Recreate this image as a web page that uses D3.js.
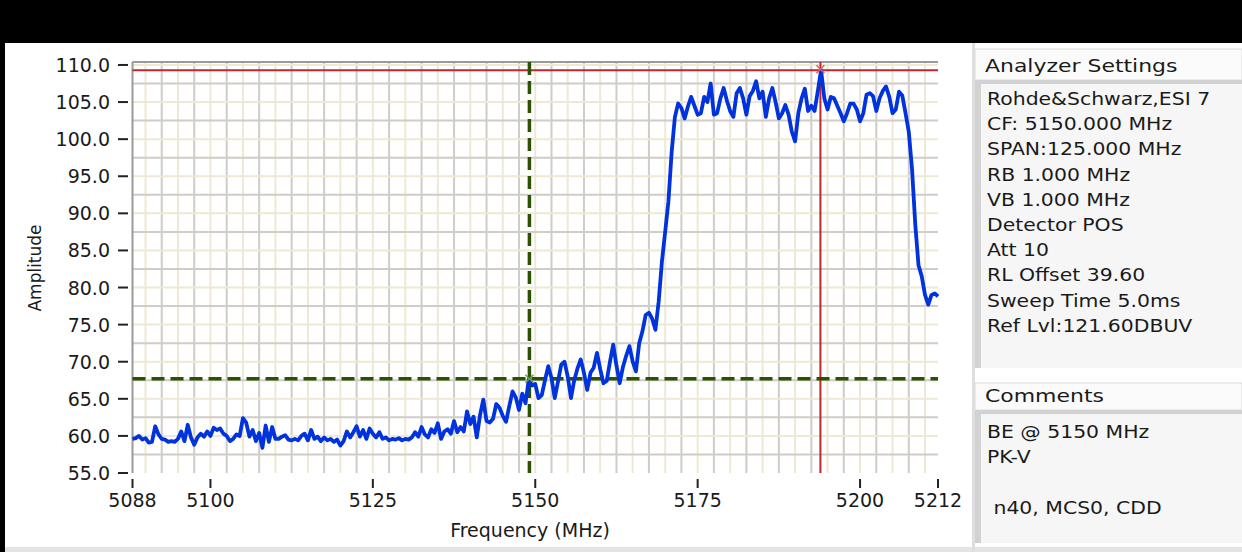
<!DOCTYPE html>
<html lang="en">
<head>
<meta charset="UTF-8">
<title>Band Edge Plot</title>
<script src="https://d3js.org/d3.v7.min.js"></script>
<style>
    body { margin: 0; padding: 0; background: #000; }
    svg { display: block; }
    text { font-family: "DejaVu Sans", Verdana, sans-serif; fill: #1a1a1a; }
</style>
</head>
<body>
<svg id="chart" width="1242" height="552"></svg>
<script>
// trace samples, 0.5 MHz apart starting at 5088 MHz
var startFreq = 5088, stepFreq = 0.5;
var amplitude = [
    59.6, 59.7, 60.0, 59.5, 59.7, 59.1, 59.2, 61.3, 60.2, 59.6,
    59.5, 59.2, 59.3, 59.2, 59.6, 60.6, 59.3, 61.5, 59.8, 58.8,
    59.8, 60.3, 59.9, 60.6, 60.0, 61.1, 60.8, 61.0, 60.3, 60.0,
    59.3, 59.6, 60.2, 60.0, 62.4, 61.8, 59.9, 60.8, 59.3, 60.4,
    58.4, 61.4, 59.2, 61.2, 59.6, 59.6, 59.9, 60.1, 59.5, 59.4,
    59.6, 59.4, 60.0, 60.3, 59.4, 60.8, 59.6, 59.9, 59.3, 59.8,
    59.4, 59.6, 59.2, 59.5, 58.7, 59.3, 60.6, 59.8, 60.5, 61.3,
    59.9, 60.8, 59.6, 61.0, 60.3, 59.8, 60.5, 59.6, 59.8, 59.4,
    59.6, 59.5, 59.7, 59.4, 59.6, 59.5, 59.8, 60.5, 59.9, 61.2,
    60.2, 59.8, 60.9, 60.4, 61.7, 59.6, 60.6, 60.9, 60.3, 62.0,
    60.5, 61.2, 60.6, 63.3, 61.6, 62.6, 59.8, 62.8, 64.9, 62.0,
    61.8, 62.3, 64.3, 63.8, 62.7, 61.9, 64.0, 66.0, 65.2, 63.5,
    65.7, 64.4, 67.6, 66.8, 67.0, 65.1, 65.5, 67.5, 69.4, 67.8,
    65.1, 67.3, 69.6, 70.0, 68.0, 65.1, 67.5, 69.1, 70.3, 68.5,
    66.2, 68.5, 69.2, 71.2, 69.0, 67.1, 67.4, 70.0, 72.3, 69.5,
    67.1, 69.3, 70.8, 72.1, 70.0, 68.7, 72.5, 74.1, 76.3, 76.6,
    75.8, 74.3, 78.1, 83.5, 87.5, 91.6, 98.3, 103.0, 104.8, 104.2,
    102.8, 104.4, 105.7, 104.5, 103.3, 103.5, 105.7, 105.0, 107.5, 103.3,
    103.5, 105.5, 106.9, 105.2, 103.8, 103.0, 106.2, 106.9, 105.5, 103.3,
    105.8, 106.5, 107.8, 105.5, 106.4, 103.0, 105.5, 106.9, 105.0, 102.8,
    103.5, 104.6, 103.3, 101.0, 99.7, 103.5, 105.5, 106.8, 103.8, 104.5,
    103.8, 106.5, 109.3, 105.5, 104.0, 105.7, 105.5, 104.5, 103.5, 102.4,
    103.5, 104.8, 104.8, 104.0, 102.4, 103.5, 106.0, 106.2, 105.8, 103.8,
    105.5, 106.5, 107.1, 105.7, 103.5, 104.0, 106.4, 105.9, 103.5, 101.0,
    96.0, 88.5, 83.0, 81.5, 79.0, 77.7, 79.0, 79.2, 78.8
];

var xTicks = [5088, 5100, 5125, 5150, 5175, 5200, 5212];
var yTicks = [55, 60, 65, 70, 75, 80, 85, 90, 95, 100, 105, 110];

// markers: peak (red) and band edge (green)
var peakMarker = { freq: 5193.9, amp: 109.3 };
var edgeMarker = { freq: 5149.1, amp: 67.7 };

var settingsLines = [
    "Rohde&Schwarz,ESI 7",
    "CF: 5150.000 MHz",
    "SPAN:125.000 MHz",
    "RB 1.000 MHz",
    "VB 1.000 MHz",
    "Detector POS",
    "Att 10",
    "RL Offset 39.60",
    "Sweep Time 5.0ms",
    "Ref Lvl:121.60DBUV"
];
var commentLines = ["BE @ 5150 MHz", "PK-V", "", " n40, MCS0, CDD"];

var svg = d3.select("#chart");

// background panels
svg.append("rect").attr("x", 5).attr("y", 43).attr("width", 1237).attr("height", 504).attr("fill", "#fff");
svg.append("rect").attr("x", 0).attr("y", 547).attr("width", 1242).attr("height", 5).attr("fill", "#e4e4e4");
svg.append("rect").attr("x", 0).attr("y", 0).attr("width", 5).attr("height", 552).attr("fill", "#000");

var x = d3.scaleLinear().domain([5088, 5212]).range([132.5, 938]);
var y = d3.scaleLinear().domain([55, 110.4]).range([473, 62]);

var plot = svg.append("g");

// grid: lines every 2.5, multiples of 5 lighter
var vGrid = d3.range(5090, 5211, 2.5);
var hGrid = d3.range(57.5, 110.1, 2.5);
function gridColor(v) { return (Math.abs(v % 5) < 0.01) ? "#eee9d4" : "#d0ccc7"; }

plot.selectAll(".vg").data(vGrid).enter().append("line")
    .attr("x1", d => x(d)).attr("x2", d => x(d))
    .attr("y1", y.range()[1]).attr("y2", y.range()[0])
    .attr("stroke", gridColor).attr("stroke-width", 2);
plot.selectAll(".hg").data(hGrid).enter().append("line")
    .attr("x1", x.range()[0]).attr("x2", x.range()[1])
    .attr("y1", d => y(d)).attr("y2", d => y(d))
    .attr("stroke", gridColor).attr("stroke-width", 2);

// frame (top + left)
plot.append("line").attr("x1", x.range()[0]).attr("x2", x.range()[1])
    .attr("y1", 62).attr("y2", 62).attr("stroke", "#9a9a9a").attr("stroke-width", 2);
plot.append("line").attr("x1", x.range()[0]).attr("x2", x.range()[0])
    .attr("y1", 62).attr("y2", 473).attr("stroke", "#9a9a9a").attr("stroke-width", 2);

// markers lines
var red = "#c0262c", green = "#2a5200";
plot.append("line").attr("x1", x.range()[0]).attr("x2", x.range()[1])
    .attr("y1", y(peakMarker.amp)).attr("y2", y(peakMarker.amp))
    .attr("stroke", red).attr("stroke-width", 2);
plot.append("line").attr("x1", x(peakMarker.freq)).attr("x2", x(peakMarker.freq))
    .attr("y1", 62).attr("y2", 473).attr("stroke", red).attr("stroke-width", 2);

plot.append("line").attr("x1", x.range()[0]).attr("x2", x.range()[1])
    .attr("y1", y(edgeMarker.amp)).attr("y2", y(edgeMarker.amp))
    .attr("stroke", green).attr("stroke-width", 3.5).attr("stroke-dasharray", "13,6");
plot.append("line").attr("x1", x(edgeMarker.freq)).attr("x2", x(edgeMarker.freq))
    .attr("y1", 62).attr("y2", 473)
    .attr("stroke", green).attr("stroke-width", 3.5).attr("stroke-dasharray", "13,6");

// trace
var line = d3.line()
    .x((d, i) => x(startFreq + i * stepFreq))
    .y(d => y(d));
plot.append("path").datum(amplitude)
    .attr("d", line)
    .attr("fill", "none")
    .attr("stroke", "#0033dd")
    .attr("stroke-width", 3.8)
    .attr("stroke-linejoin", "round");

// marker crosses
function cross(cx, cy, col) {
    var s = 4;
    plot.append("path")
        .attr("d", "M" + (cx - s) + "," + (cy - s) + "L" + (cx + s) + "," + (cy + s) +
                   "M" + (cx + s) + "," + (cy - s) + "L" + (cx - s) + "," + (cy + s))
        .attr("stroke", col).attr("stroke-width", 1.5).attr("fill", "none");
}
cross(x(peakMarker.freq), y(peakMarker.amp) - 1, "#e06060");
cross(x(edgeMarker.freq), y(edgeMarker.amp), "#6e9a4a");

// y axis ticks and labels
var yAx = svg.append("g");
yAx.selectAll("line").data(yTicks).enter().append("line")
    .attr("x1", 118).attr("x2", 128)
    .attr("y1", d => y(d)).attr("y2", d => y(d))
    .attr("stroke", "#222").attr("stroke-width", 2);
yAx.selectAll("text").data(yTicks).enter().append("text")
    .attr("x", 110).attr("y", d => y(d) + 7)
    .attr("text-anchor", "end")
    .style("font-size", "19px")
    .text(d3.format(".1f"));

// x axis ticks and labels
var xAx = svg.append("g");
xAx.selectAll("line").data(xTicks).enter().append("line")
    .attr("x1", d => x(d)).attr("x2", d => x(d))
    .attr("y1", 479).attr("y2", 488)
    .attr("stroke", "#222").attr("stroke-width", 2);
xAx.selectAll("text").data(xTicks).enter().append("text")
    .attr("x", d => x(d)).attr("y", 507)
    .attr("text-anchor", "middle")
    .style("font-size", "19px")
    .text(d => d);

// axis titles
svg.append("text")
    .attr("transform", "translate(41,268) rotate(-90)")
    .attr("text-anchor", "middle")
    .style("font-size", "17px")
    .text("Amplitude");
svg.append("text")
    .attr("x", 530).attr("y", 537)
    .attr("text-anchor", "middle")
    .style("font-size", "19px")
    .text("Frequency (MHz)");

// right side info panels
var side = svg.append("g");
side.append("rect").attr("x", 972).attr("y", 43).attr("width", 3).attr("height", 509).attr("fill", "#dedede");

function infoBox(top, headH, bodyH, title, lines, textX, firstOff) {
    side.append("rect").attr("x", 975).attr("y", top).attr("width", 267).attr("height", headH)
        .attr("fill", "#fbfbfb").attr("stroke", "#dcdcdc").attr("stroke-width", 1);
    side.append("text").attr("x", 985).attr("y", top + headH - 8)
        .attr("transform", "translate(" + (985 * -0.22) + ",0) scale(1.22,1)")
        .style("font-size", "18px").text(title);
    var by = top + headH;
    side.append("rect").attr("x", 975).attr("y", by).attr("width", 267).attr("height", bodyH)
        .attr("fill", "#f6f6f6");
    side.append("rect").attr("x", 975).attr("y", by).attr("width", 6).attr("height", bodyH).attr("fill", "#d2d2d2");
    side.append("rect").attr("x", 975).attr("y", by).attr("width", 267).attr("height", 4).attr("fill", "#d2d2d2");
    side.selectAll(null).data(lines).enter().append("text")
        .attr("x", textX).attr("y", (d, i) => by + firstOff + i * 25.2)
        .attr("transform", "translate(" + (textX * -0.2) + ",0) scale(1.2,1)")
        .style("font-size", "17px")
        .style("white-space", "pre")
        .text(d => d);
}
infoBox(49, 31, 288, "Analyzer Settings", settingsLines, 987, 25);
infoBox(383, 27, 133, "Comments", commentLines, 987, 28);
</script>
</body>
</html>
